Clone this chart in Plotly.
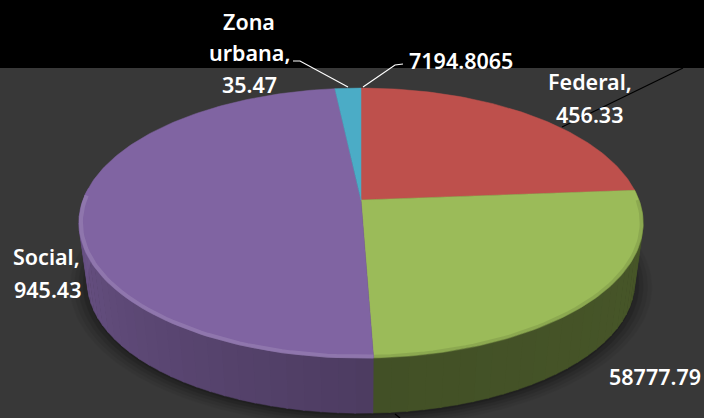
import numpy as np
import plotly.graph_objects as go

# Slice names and printed labels, clockwise from 12 o'clock
categories = ["Federal", "Verde", "Social", "Zona urbana"]
slice_shares = [23.8, 25.6, 48.85, 1.75]          # shares as drawn, percent
printed_values = ["456.33", "58777.79", "945.43", "35.47"]
extra_label = "7194.8065"

top_colors = ["#BE504C", "#9BBB59", "#8064A2", "#4BACC6"]
side_start = [0.45, 0.47, 0.60, 0.6]
side_end = [0.45, 0.43, 0.85, 0.6]

CX, CY, A, B, K = 361.0, 200.0, 131.0, 278.0, 0.1705
DROP, SHRINK = 60.0, 0.97


def project(theta, radius=1.0, drop=0.0, scale=1.0):
    """theta is clockwise from 12 o'clock, degrees; returns pixel coords."""
    t = np.radians(theta)
    u, v = radius * np.sin(t), radius * np.cos(t)
    d = 1 + K * v
    return CX + scale * B * u / d, CY + drop - scale * A * v / d


def rgb(hexcol, f=1.0):
    c = [int(hexcol[i:i + 2], 16) for i in (1, 3, 5)]
    if f <= 1:
        c = [int(x * f) for x in c]
    else:
        c = [int(x + (255 - x) * (f - 1)) for x in c]
    return f"rgb({c[0]},{c[1]},{c[2]})"


def poly(xs, ys, color, opacity=1.0):
    return go.Scatter(x=xs, y=ys, mode="lines", fill="toself", fillcolor=color,
                      line=dict(width=0.5, color=color), opacity=opacity,
                      hoverinfo="skip", showlegend=False)


fig = go.Figure()

# soft shadow under the pie
ring = np.linspace(0, 360, 181)
for extra, op in [(1.06, 0.05), (1.045, 0.07), (1.03, 0.09), (1.015, 0.12), (1.0, 0.15)]:
    sx, sy = project(ring, extra, DROP + 2, SHRINK)
    fig.add_trace(poly(sx, sy, "#000000", op))

edges = np.concatenate([[0], np.cumsum(slice_shares)]) * 3.6

# extruded side, front-facing part only
for i, col in enumerate(top_colors):
    a0, a1 = edges[i], edges[i + 1]
    lo, hi = max(a0, 85.0), min(a1, 275.0)
    if hi <= lo:
        continue
    n = max(int((hi - lo) / 3), 1)
    steps = np.linspace(lo, hi, n + 1)
    for j in range(n):
        f = side_start[i] + (side_end[i] - side_start[i]) * (j + 0.5) / n
        th = np.linspace(steps[j], steps[j + 1] + 0.3, 4)
        x1, y1 = project(th)
        x2, y2 = project(th[::-1], 1.0, DROP, SHRINK)
        fig.add_trace(poly(np.r_[x1, x2], np.r_[y1, y2], rgb(col, f)))

# top faces
for i, col in enumerate(top_colors):
    th = np.linspace(edges[i], edges[i + 1], max(int(slice_shares[i] * 3.6), 2) + 1)
    x, y = project(th)
    fig.add_trace(poly(np.r_[CX, x, CX], np.r_[CY, y, CY], col))

# bevel along the front rim of the purple slice, soft dark edge on the green one
for i, light, alpha, w, r in [(1, 0.7, 0.3, 4, 0.995), (2, 1.18, 0.7, 4, 0.993)]:
    lo, hi = max(edges[i], 90.0), min(edges[i + 1], 272.0)
    th = np.linspace(lo, hi, 60)
    x, y = project(th, r)
    fig.add_trace(go.Scatter(x=x, y=y, mode="lines", hoverinfo="skip", showlegend=False,
                             opacity=alpha, line=dict(color=rgb(top_colors[i], light), width=w)))

# text lines: printed labels, every line placed on its own
text_lines = [
    ("Zona", 249, 21), ("urbana,", 249, 52), (printed_values[3], 249, 84),
    (extra_label, 461, 60),
    (f"{categories[0]},", 590, 81), (printed_values[0], 589, 114),
    (f"{categories[2]},", 46, 256), (printed_values[2], 47, 289),
    (printed_values[1], 655, 376),
]
annotations = [dict(x=x, y=y, text=t, showarrow=False, xref="x", yref="y",
                    xanchor="center", yanchor="middle",
                    font=dict(family="Noto Sans", size=21.5, color="#FFFFFF", weight=600))
               for t, x, y in text_lines]

shapes = [
    dict(type="rect", x0=0, x1=704, y0=0, y1=68, fillcolor="#000000",
         line_width=0, layer="below"),
    dict(type="path", path="M 293 61 L 300 61 L 348 87", line=dict(color="#FFFFFF", width=1.2)),
    dict(type="path", path="M 403 64 L 395 65 L 363 87", line=dict(color="#FFFFFF", width=1.2)),
    dict(type="line", x0=683, y0=68, x1=562, y1=127, line=dict(color="#000000", width=1.2)),
    dict(type="line", x0=395, y0=414, x1=400, y1=418, line=dict(color="#000000", width=1.2)),
]

fig.update_layout(
    width=704, height=418, margin=dict(l=0, r=0, t=0, b=0),
    paper_bgcolor="#383838", plot_bgcolor="#383838",
    xaxis=dict(range=[0, 704], visible=False, fixedrange=True),
    yaxis=dict(range=[418, 0], visible=False, fixedrange=True),
    showlegend=False, shapes=shapes, annotations=annotations,
)
fig.write_html("out.html", config={"displayModeBar": False},
               post_script="document.body.style.margin='0';document.body.style.overflow='hidden';")
